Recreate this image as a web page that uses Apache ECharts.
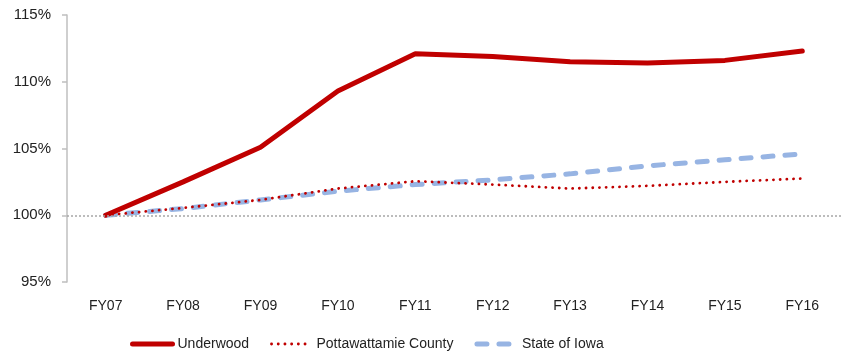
<!DOCTYPE html>
<html>
<head>
<meta charset="utf-8">
<script src="https://cdn.jsdelivr.net/npm/echarts@6/dist/echarts.min.js"></script>
<style>
  html, body { margin: 0; padding: 0; background: #fff; }
  #chart { width: 845px; height: 356px; }
</style>
</head>
<body>
<div id="chart"></div>
<script>
// Fiscal years on the horizontal axis
const years = ['FY07', 'FY08', 'FY09', 'FY10', 'FY11', 'FY12', 'FY13', 'FY14', 'FY15', 'FY16'];

// Growth indexed to FY07 = 100%
const underwood = [100, 102.5, 105.1, 109.3, 112.1, 111.9, 111.5, 111.4, 111.6, 112.3];
const pottawattamie = [100, 100.55, 101.15, 102.0, 102.55, 102.3, 102.0, 102.2, 102.5, 102.75];
const iowa = [100, 100.5, 101.15, 101.8, 102.3, 102.65, 103.1, 103.7, 104.15, 104.6];

const seriesNames = ['Underwood', 'Pottawattamie County', 'State of Iowa'];
const baseline = 100;

const font = 'Liberation Sans';

const styles = {
  underwood: { color: '#c00000', width: 5, type: 'solid', cap: 'round' },
  pottawattamie: { color: '#c00000', width: 2.8, type: [0.1, 6.6], cap: 'round' },
  iowa: { color: '#97b4e3', width: 5, type: [10, 12], cap: 'round' }
};

const chart = echarts.init(document.getElementById('chart'), null, { renderer: 'canvas' });

chart.setOption({
  animation: false,
  grid: { left: 67, right: 4, top: 15, bottom: 74 },
  legend: {
    bottom: 0,
    left: 125,
    itemWidth: 40,
    itemHeight: 14,
    itemGap: 21,
    // hide the marker dot so each key shows only the line style
    itemStyle: { opacity: 0 },
    textStyle: { fontFamily: font, fontSize: 14, color: '#222' },
    data: [
      { name: seriesNames[0], lineStyle: styles.underwood },
      { name: seriesNames[1], lineStyle: styles.pottawattamie },
      { name: seriesNames[2], lineStyle: styles.iowa }
    ]
  },
  xAxis: {
    type: 'category',
    data: years,
    boundaryGap: true,
    axisLine: { show: false },
    axisTick: { show: false },
    axisLabel: { margin: 17, fontFamily: font, fontSize: 14, color: '#222' }
  },
  yAxis: {
    type: 'value',
    min: 95,
    max: 115,
    interval: 5,
    splitLine: { show: false },
    axisLine: { show: true, lineStyle: { color: '#bfbfbf', width: 1.5 } },
    axisTick: { show: true, length: 5, lineStyle: { color: '#bfbfbf', width: 1.5 } },
    axisLabel: {
      margin: 16,
      fontFamily: font,
      fontSize: 15,
      color: '#222',
      formatter: v => v + '%'
    }
  },
  series: [
    {
      name: seriesNames[1],
      type: 'line',
      data: pottawattamie,
      symbol: 'none',
      z: 3,
      lineStyle: styles.pottawattamie,
      itemStyle: { color: '#c00000' },
      markLine: {
        silent: true,
        symbol: 'none',
        label: { show: false },
        lineStyle: { color: '#a6a6a6', width: 1.5, type: [2, 2] },
        data: [{ yAxis: baseline }]
      }
    },
    {
      name: seriesNames[2],
      type: 'line',
      data: iowa,
      symbol: 'none',
      z: 2,
      lineStyle: styles.iowa,
      itemStyle: { color: '#97b4e3' }
    },
    {
      name: seriesNames[0],
      type: 'line',
      data: underwood,
      symbol: 'none',
      z: 4,
      lineStyle: styles.underwood,
      itemStyle: { color: '#c00000' }
    }
  ]
});
</script>
</body>
</html>
